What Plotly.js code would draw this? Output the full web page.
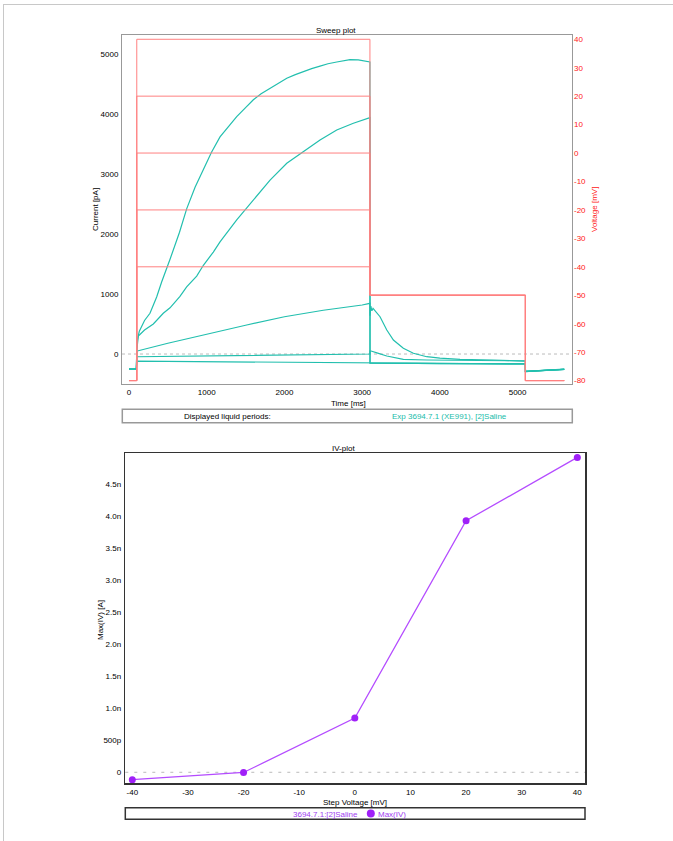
<!DOCTYPE html>
<html><head><meta charset="utf-8">
<script src="https://cdn.plot.ly/plotly-3.0.1.min.js"></script>
<style>
html,body{margin:0;padding:0;background:#fff;overflow:hidden;width:673px;height:841px;}
#chart{position:absolute;left:0;top:0;width:673px;height:841px;}
#frame{position:absolute;left:3px;top:4px;width:700px;height:860px;border-left:1.5px solid #c8c8c8;border-top:1.5px solid #c8c8c8;pointer-events:none;}
</style></head><body>
<div id="chart"></div><div id="frame"></div>
<script>
// ---------- Sweep plot data ----------
const stepVoltages = [40, 20, 0, -20, -40];           // mV, step level of each sweep
const holdingV = -80;                                  // mV
const tailV = -50;                                     // mV
const protocolTimes = [0, 100, 100, 3100, 3100, 5100, 5100, 5600]; // ms

// current traces (pA) per sweep, time in ms
const t40 = [0, 95, 100, 110, 133, 200, 270, 356, 420, 485, 528, 650, 742, 850, 957, 1060, 1171, 1280, 1386, 1500, 1600, 1700, 1815, 1920, 2030, 2140, 2243, 2350, 2458, 2560, 2673, 2780, 2844, 2950, 3050, 3100, 3101, 3500, 4000, 4500, 5100, 5101, 5300, 5600];
const i40 = [-250, -250, 60, 250, 380, 560, 680, 950, 1200, 1450, 1580, 2030, 2420, 2780, 3070, 3360, 3620, 3800, 3960, 4110, 4240, 4340, 4430, 4520, 4600, 4660, 4710, 4760, 4800, 4840, 4870, 4900, 4910, 4905, 4890, 4870, -150, -158, -160, -162, -165, -290, -275, -255];

const t20 = [0, 95, 100, 110, 120, 200, 313, 441, 528, 656, 742, 871, 957, 1085, 1171, 1386, 1600, 1815, 2030, 2243, 2458, 2673, 2887, 3100, 3101, 5100, 5101, 5300, 5600];
const i20 = [-250, -250, 60, 200, 300, 400, 500, 680, 770, 960, 1120, 1300, 1480, 1700, 1870, 2236, 2569, 2900, 3180, 3375, 3570, 3737, 3848, 3943, -152, -166, -292, -276, -256];

const t0 = [0, 95, 100, 107, 500, 1000, 1500, 2000, 2500, 3000, 3100, 3101, 3112, 3125, 3140, 3230, 3317, 3402, 3530, 3659, 3831, 4000, 4260, 4689, 5100, 5101, 5300, 5600];
const i0 = [-250, -250, 50, 50, 180, 333, 480, 622, 730, 817, 846, 640, 800, 720, 760, 622, 400, 233, 95, 12, -45, -70, -89, -100, -117, -288, -273, -253];

const tm20 = [0, 95, 100, 1500, 3100, 3101, 3115, 3200, 3317, 3530, 3831, 4500, 5100, 5101, 5300, 5600];
const im20 = [-250, -250, -45, -25, 0, 50, 50, 15, -33, -89, -100, -108, -115, -290, -275, -255];

const tm40 = [0, 95, 100, 1500, 3100, 3101, 4000, 5100, 5101, 5300, 5600];
const im40 = [-250, -250, -120, -135, -150, -155, -160, -165, -292, -276, -256];

const timeTicks = [0, 1000, 2000, 3000, 4000, 5000];
const voltTicks = [40, 30, 20, 10, 0, -10, -20, -30, -40, -50, -60, -70, -80];

// ---------- IV plot data ----------
const ivVoltage = [-40, -20, 0, 20, 40];                         // mV
const ivMaxA = [-0.115e-9, -0.003e-9, 0.848e-9, 3.93e-9, 4.92e-9]; // A
const ivTickVals = [0, 0.5e-9, 1.0e-9, 1.5e-9, 2.0e-9, 2.5e-9, 3.0e-9, 3.5e-9, 4.0e-9, 4.5e-9];
const ivTickText = ['0', '500p', '1.0n', '1.5n', '2.0n', '2.5n', '3.0n', '3.5n', '4.0n', '4.5n'];
const stepTicks = [-40, -30, -20, -10, 0, 10, 20, 30, 40];

// ---------- build ----------
const W = 673, H = 841;
const px = x => x / W;
const py = y => 1 - y / H;
const FONT = 'Liberation Sans, Arial, sans-serif';
const RED = '#ff8080';
const TEAL = '#22bfae';
const PURPLE = '#a020f8';
const FS = 8;

const traces = [];
stepVoltages.forEach(v => {
  traces.push({
    x: protocolTimes,
    y: [holdingV, holdingV, v, v, tailV, tailV, holdingV, holdingV],
    xaxis: 'x', yaxis: 'y2', type: 'scatter', mode: 'lines',
    line: {color: RED, width: 1}, hoverinfo: 'skip'
  });
});
[[t40, i40], [t20, i20], [t0, i0], [tm20, im20], [tm40, im40]].forEach(([t, c]) => {
  traces.push({
    x: t, y: c, xaxis: 'x', yaxis: 'y', type: 'scatter', mode: 'lines',
    line: {color: TEAL, width: 1.2}, hoverinfo: 'skip'
  });
});
traces.push({
  x: ivVoltage, y: ivMaxA, xaxis: 'x2', yaxis: 'y3', type: 'scatter', mode: 'lines+markers',
  line: {color: '#b44cff', width: 1.3}, marker: {color: PURPLE, size: 7}, hoverinfo: 'skip'
});

const tickfont = {family: FONT, size: FS, color: '#000'};
const hy = v => String(v);   // tick text with plain hyphen minus

const layout = {
  width: W, height: H,
  margin: {l: 0, r: 0, t: 0, b: 0, pad: 0},
  paper_bgcolor: 'rgba(0,0,0,0)', plot_bgcolor: '#fff',
  showlegend: false, hovermode: false,
  font: {family: FONT, size: FS, color: '#000'},
  xaxis: {
    domain: [px(122), px(572)], anchor: 'y', range: [-90, 5700],
    tickvals: timeTicks, ticktext: timeTicks.map(hy),
    showline: true, mirror: true, linecolor: '#999', linewidth: 1,
    showgrid: false, zeroline: false, ticks: '', ticklabelstandoff: 0,
    tickfont: tickfont, automargin: false
  },
  yaxis: {
    domain: [py(384), py(35)], anchor: 'x', range: [-500, 5320],
    tick0: 0, dtick: 1000,
    showline: true, mirror: true, linecolor: '#999', linewidth: 1,
    showgrid: false, zeroline: false, ticks: '', ticklabelstandoff: 1,
    tickfont: tickfont, automargin: false
  },
  yaxis2: {
    overlaying: 'y', side: 'right', anchor: 'x', range: [-81.2, 41.5],
    tickvals: voltTicks, ticktext: voltTicks.map(hy),
    showline: false, showgrid: false, zeroline: false,
    ticks: '', ticklabelstandoff: 1,
    tickfont: {family: FONT, size: FS, color: '#ff2020'}, automargin: false
  },
  xaxis2: {
    domain: [px(125.3), px(585)], anchor: 'y3', range: [-41.26, 41.38],
    tickvals: stepTicks, ticktext: stepTicks.map(hy),
    showline: true, mirror: true, linecolor: '#333', linewidth: 1.5,
    showgrid: false, zeroline: false, ticks: '', ticklabelstandoff: 1,
    tickfont: tickfont, automargin: false
  },
  yaxis3: {
    domain: [py(783.3), py(453.3)], anchor: 'x2', range: [-0.172e-9, 4.984e-9],
    tickvals: ivTickVals, ticktext: ivTickText,
    showline: true, mirror: true, linecolor: '#333', linewidth: 1.5,
    showgrid: false, zeroline: false, ticks: '', ticklabelstandoff: 1,
    tickfont: tickfont, automargin: false
  },
  shapes: [
    // zero reference lines
    {type: 'line', xref: 'x domain', x0: 0, x1: 1, yref: 'y', y0: 0, y1: 0,
     line: {color: '#bbb', width: 1, dash: 'dot'}, layer: 'below'},
    {type: 'line', xref: 'x2 domain', x0: 0, x1: 1, yref: 'y3', y0: 0, y1: 0,
     line: {color: '#bbb', width: 1, dash: '3px,6px'}, layer: 'below'},
    // legend boxes
    {type: 'rect', xref: 'paper', yref: 'paper', x0: px(122.3), x1: px(572.3), y0: py(422.7), y1: py(409.3),
     line: {color: '#999', width: 1.5}, fillcolor: 'rgba(0,0,0,0)'},
    {type: 'rect', xref: 'paper', yref: 'paper', x0: px(125.3), x1: px(585), y0: py(819.3), y1: py(807.7),
     line: {color: '#333', width: 1.5}, fillcolor: 'rgba(0,0,0,0)'},
    {type: 'circle', xref: 'paper', yref: 'paper', x0: px(366.8), x1: px(374.8), y0: py(817.5), y1: py(809.5),
     line: {color: PURPLE, width: 0}, fillcolor: PURPLE}
  ],
  annotations: [
    {text: 'Sweep plot', x: px(336), y: py(30.5), xref: 'paper', yref: 'paper', showarrow: false,
     xanchor: 'center', yanchor: 'middle', font: {family: FONT, size: FS, color: '#000'}},
    {text: 'Time [ms]', x: px(348), y: py(403.5), xref: 'paper', yref: 'paper', showarrow: false,
     xanchor: 'center', yanchor: 'middle', font: {family: FONT, size: FS, color: '#000'}},
    {text: 'Current [pA]', x: px(95), y: py(210), xref: 'paper', yref: 'paper', showarrow: false,
     textangle: -90, xanchor: 'center', yanchor: 'middle', font: {family: FONT, size: FS, color: '#000'}},
    {text: 'Voltage [mV]', x: px(594), y: py(210), xref: 'paper', yref: 'paper', showarrow: false,
     textangle: -90, xanchor: 'center', yanchor: 'middle', font: {family: FONT, size: FS, color: '#ff2020'}},
    {text: 'Displayed liquid periods:', x: px(227), y: py(416), xref: 'paper', yref: 'paper', showarrow: false,
     xanchor: 'center', yanchor: 'middle', font: {family: FONT, size: FS, color: '#000'}},
    {text: 'Exp 3694.7.1 (XE991), [2]Saline', x: px(450), y: py(416), xref: 'paper', yref: 'paper', showarrow: false,
     xanchor: 'center', yanchor: 'middle', font: {family: FONT, size: FS, color: '#20bcaa'}},
    {text: 'IV-plot', x: px(343), y: py(448), xref: 'paper', yref: 'paper', showarrow: false,
     xanchor: 'center', yanchor: 'middle', font: {family: FONT, size: FS, color: '#000'}},
    {text: 'Step Voltage [mV]', x: px(355), y: py(802), xref: 'paper', yref: 'paper', showarrow: false,
     xanchor: 'center', yanchor: 'middle', font: {family: FONT, size: FS, color: '#000'}},
    {text: 'Max(IV) [A]', x: px(100), y: py(620), xref: 'paper', yref: 'paper', showarrow: false,
     textangle: -90, xanchor: 'center', yanchor: 'middle', font: {family: FONT, size: FS, color: '#000'}},
    {text: '3694.7.1:[2]Saline', x: px(325), y: py(814), xref: 'paper', yref: 'paper', showarrow: false,
     xanchor: 'center', yanchor: 'middle', font: {family: FONT, size: FS, color: '#a040f0'}},
    {text: 'Max(IV)', x: px(392), y: py(814), xref: 'paper', yref: 'paper', showarrow: false,
     xanchor: 'center', yanchor: 'middle', font: {family: FONT, size: FS, color: '#a040f0'}}
  ]
};

Plotly.newPlot('chart', traces, layout, {staticPlot: true, displayModeBar: false});
</script>
</body></html>
